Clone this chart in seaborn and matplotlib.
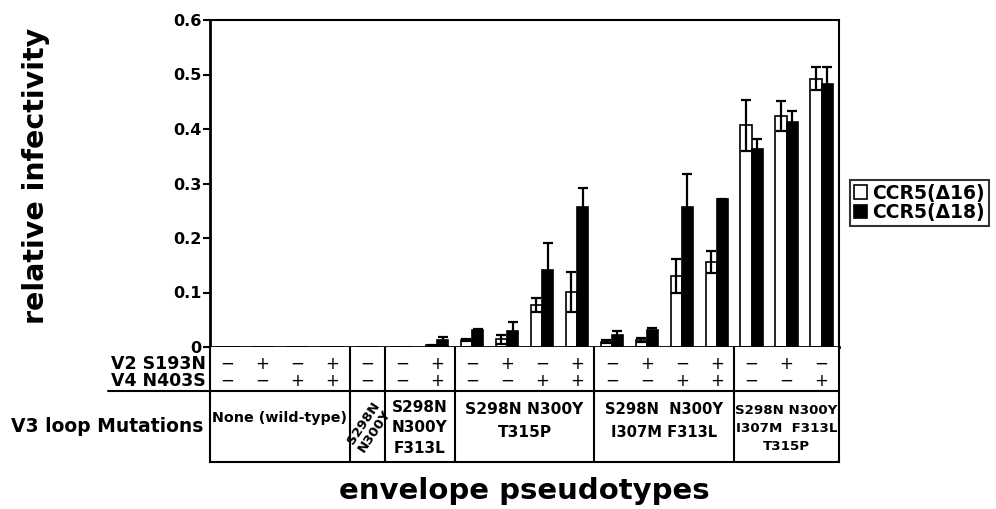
import matplotlib
matplotlib.use("Agg")
import matplotlib.pyplot as plt
import seaborn as sns
import pandas as pd
import numpy as np
from matplotlib.patches import Patch
from matplotlib.lines import Line2D

# ---------------- data ----------------
positions = list(range(18))
v2_signs = ["−", "+", "−", "+", "−", "−", "+", "−", "+", "−", "+", "−", "+", "−", "+", "−", "+", "−"]
v4_signs = ["−", "−", "+", "+", "−", "−", "+", "−", "−", "+", "+", "−", "−", "+", "+", "−", "−", "+"]
ccr5_d16 = [0, 0, 0, 0, 0, 0, 0.003, 0.013, 0.014, 0.077, 0.101, 0.010, 0.013, 0.130, 0.156, 0.407, 0.424, 0.492]
ccr5_d16_err = [0, 0, 0, 0, 0, 0, 0.001, 0.002, 0.008, 0.013, 0.036, 0.002, 0.003, 0.031, 0.020, 0.047, 0.028, 0.021]
ccr5_d18 = [0, 0, 0, 0, 0, 0, 0.013, 0.031, 0.029, 0.142, 0.256, 0.022, 0.031, 0.257, 0.271, 0.363, 0.412, 0.482]
ccr5_d18_err = [0, 0, 0, 0, 0, 0, 0.006, 0.002, 0.016, 0.048, 0.035, 0.007, 0.004, 0.061, 0.001, 0.018, 0.021, 0.032]
series_names = ["CCR5(Δ16)", "CCR5(Δ18)"]
group_sizes = [4, 1, 2, 4, 4, 3]
group_labels = ["None (wild-type)", "S298N\nN300Y", "S298N\nN300Y\nF313L",
                "S298N N300Y\nT315P", "S298N  N300Y\nI307M F313L",
                "S298N N300Y\nI307M  F313L\nT315P"]
yticks = [0, 0.1, 0.2, 0.3, 0.4, 0.5, 0.6]
ytick_labels = ["0", "0.1", "0.2", "0.3", "0.4", "0.5", "0.6"]

# ---------------- style ----------------
sns.set_theme(style="white")
plt.rcParams["font.family"] = ["DejaVu Sans"]
plt.rcParams["font.weight"] = "bold"
plt.rcParams["text.color"] = "black"
plt.rcParams["axes.labelcolor"] = "black"
plt.rcParams["xtick.color"] = "black"
plt.rcParams["ytick.color"] = "black"

W, H = 996, 509
fig = plt.figure(figsize=(W / 100, H / 100), dpi=100)

def fx(px):
    return px / W

def fy(py):
    return 1 - py / H

ax_l, ax_r, ax_t, ax_b = 210, 839, 20, 347
tab_b = 462
ax = fig.add_axes([fx(ax_l), fy(ax_b), fx(ax_r - ax_l), (ax_b - ax_t) / H])
tax = fig.add_axes([fx(ax_l), fy(tab_b), fx(ax_r - ax_l), (tab_b - ax_b) / H])

df = pd.DataFrame({
    "pos": positions * 2,
    "value": ccr5_d16 + ccr5_d18,
    "err": ccr5_d16_err + ccr5_d18_err,
    "series": [series_names[0]] * 18 + [series_names[1]] * 18,
})

sns.barplot(data=df, x="pos", y="value", hue="series", order=positions,
            hue_order=series_names, palette=["white", "black"], width=0.64,
            edgecolor="black", linewidth=1.2, errorbar=None, legend=False, ax=ax)

# error bars at bar centres
for patch, (_, row) in zip(ax.patches, df.iterrows()):
    if row["err"] > 0:
        xc = patch.get_x() + patch.get_width() / 2
        ax.errorbar(xc, row["value"], yerr=row["err"], fmt="none",
                    ecolor="black", elinewidth=1.6, capsize=3.5, capthick=1.6, zorder=5)

ax.set_xlim(-0.5, 17.5)
ax.set_ylim(0, 0.6)
ax.set_yticks(yticks)
ax.set_yticklabels(ytick_labels, fontsize=11.5, fontweight="bold")
ax.set_xticks(np.arange(-0.5, 18, 1.0))
ax.set_xticklabels([])
ax.tick_params(axis="x", direction="out", length=3, width=1.2, bottom=True, pad=0)
ax.tick_params(axis="y", direction="out", length=5, width=1.5, left=True, pad=1)
ax.set_xlabel("")
ax.set_ylabel("")
for s in ["left", "bottom"]:
    ax.spines[s].set_linewidth(2.0)
for s in ["top", "right"]:
    ax.spines[s].set_linewidth(1.5)
for s in ax.spines.values():
    s.set_color("black")

# ---------------- table ----------------
tax.set_xlim(-0.5, 17.5)
tax.set_ylim(tab_b, ax_b)
tax.set_xticks([])
tax.set_yticks([])
tax.spines["top"].set_visible(False)
for s in ["left", "right", "bottom"]:
    tax.spines[s].set_linewidth(1.5)
    tax.spines[s].set_color("black")

for i in positions:
    tax.text(i, 364, v2_signs[i], ha="center", va="center", fontsize=12, fontweight="normal")
    tax.text(i, 381, v4_signs[i], ha="center", va="center", fontsize=12, fontweight="normal")

tax.axhline(391, color="black", lw=1.5)
fig.add_artist(Line2D([fx(108), fx(ax_l)], [fy(391), fy(391)], color="black", lw=1.5))

edges = np.cumsum([0] + group_sizes) - 0.5
for e in edges[1:-1]:
    tax.axvline(e, color="black", lw=1.5)

# group labels
centers = (edges[:-1] + edges[1:]) / 2
tax.text(-0.45, 418, group_labels[0], ha="left", va="center", fontsize=10.3)
tax.text(centers[1] + 0.05, 427, group_labels[1], ha="center", va="center",
         fontsize=9.5, rotation=56, linespacing=0.95)
tax.text(centers[2], 428, group_labels[2], ha="center", va="center", fontsize=11, linespacing=1.45)
tax.text(centers[3], 421, group_labels[3], ha="center", va="center", fontsize=11.2, linespacing=1.6)
tax.text(centers[4], 421, group_labels[4], ha="center", va="center", fontsize=10.6, linespacing=1.65)
tax.text(centers[5], 428, group_labels[5], ha="center", va="center", fontsize=9.6, linespacing=1.5)

# row labels at left
fig.text(fx(206), fy(364), "V2 S193N", ha="right", va="center", fontsize=12.5, fontweight="bold")
fig.text(fx(206), fy(381), "V4 N403S", ha="right", va="center", fontsize=12.5, fontweight="bold")
fig.text(fx(203), fy(427), "V3 loop Mutations", ha="right", va="center", fontsize=13.5, fontweight="bold")

# axis titles
fig.text(fx(36), fy(176), "relative infectivity", rotation=90, ha="center", va="center",
         fontsize=20.5, fontweight="bold")
fig.text(fx(524), fy(491), "envelope pseudotypes", ha="center", va="center",
         fontsize=21, fontweight="bold")

# legend
handles = [Patch(facecolor="white", edgecolor="black", lw=1.2),
           Patch(facecolor="black", edgecolor="black", lw=1.2)]
leg = fig.legend(handles, series_names, loc="center left", bbox_to_anchor=(fx(850), fy(203)),
                 frameon=True, fancybox=False, prop={"weight": "bold", "size": 13.5},
                 handlelength=0.7, handleheight=0.7, handletextpad=0.3, borderpad=0.2,
                 labelspacing=0.05, borderaxespad=0)
leg.get_frame().set_edgecolor("black")
leg.get_frame().set_linewidth(1.5)

fig.savefig("out.png", dpi=100)
